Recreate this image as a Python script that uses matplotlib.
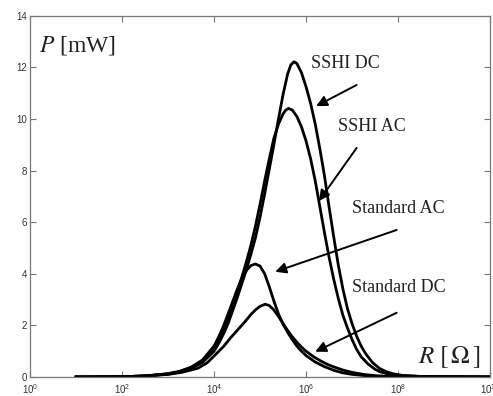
import matplotlib
matplotlib.use('Agg')
import matplotlib.pyplot as plt
import numpy as np

plt.rcParams['mathtext.fontset'] = 'stix'

sshi_dc_logr = [1, 2, 2.5, 3.0, 3.25, 3.5, 3.75, 4.0, 4.1, 4.2, 4.3, 4.4, 4.5, 4.6, 4.7, 4.8, 4.9,
                5.0, 5.1, 5.2, 5.3, 5.4, 5.5, 5.6, 5.67, 5.74, 5.8, 5.9, 6.0, 6.1, 6.2, 6.3,
                6.4, 6.5, 6.6, 6.7, 6.8, 6.9, 7.0, 7.1, 7.2, 7.3, 7.45, 7.6, 7.75, 7.9, 8.1,
                8.5, 9, 10]
sshi_dc_p = [0, 0.01, 0.04, 0.11, 0.19, 0.33, 0.57, 1.0, 1.3, 1.65, 2.05, 2.55, 3.05, 3.6, 4.15,
             4.75, 5.4, 6.2, 7.1, 8.05, 9.0, 10.0, 10.95, 11.75, 12.1, 12.22, 12.15, 11.8,
             11.25, 10.6, 9.8, 8.85, 7.8, 6.6, 5.45, 4.35, 3.42, 2.65, 2.07, 1.58, 1.19, 0.89,
             0.55, 0.33, 0.2, 0.12, 0.06, 0.02, 0.01, 0]

sshi_ac_logr = [1, 2, 2.5, 3.0, 3.25, 3.5, 3.75, 4.0, 4.1, 4.2, 4.3, 4.4, 4.5, 4.6, 4.7, 4.8, 4.9,
                5.0, 5.1, 5.2, 5.3, 5.4, 5.5, 5.56, 5.62, 5.7, 5.8, 5.9, 6.0, 6.1, 6.2, 6.3,
                6.4, 6.5, 6.6, 6.7, 6.8, 6.9, 7.0, 7.1, 7.2, 7.35, 7.5, 7.61, 7.8, 8.0, 8.5,
                9, 10]
sshi_ac_p = [0, 0.01, 0.04, 0.12, 0.21, 0.36, 0.62, 1.1, 1.42, 1.8, 2.25, 2.75, 3.3, 3.85, 4.45,
             5.1, 5.85, 6.7, 7.6, 8.45, 9.25, 9.8, 10.2, 10.35, 10.41, 10.35, 10.1, 9.7, 9.15,
             8.45, 7.6, 6.6, 5.6, 4.65, 3.8, 3.05, 2.4, 1.9, 1.45, 1.07, 0.78, 0.5, 0.3,
             0.2, 0.11, 0.06, 0.02, 0.01, 0]

std_ac_logr = [1, 2, 2.5, 3.0, 3.25, 3.5, 3.75, 4.0, 4.1, 4.2, 4.3, 4.4, 4.5, 4.6, 4.7, 4.8, 4.9,
               5.0, 5.1, 5.2, 5.3, 5.4, 5.5, 5.6, 5.7, 5.8, 5.9, 6.0, 6.2, 6.4, 6.6, 6.8,
               7.0, 7.3, 7.6, 8, 10]
std_ac_p = [0, 0.01, 0.04, 0.13, 0.22, 0.38, 0.66, 1.2, 1.55, 1.95, 2.42, 2.9, 3.38, 3.8, 4.12,
            4.32, 4.38, 4.3, 4.0, 3.5, 2.95, 2.45, 2.05, 1.73, 1.45, 1.2, 1.0, 0.83, 0.58,
            0.4, 0.26, 0.16, 0.1, 0.05, 0.02, 0.01, 0]

std_dc_logr = [1, 2, 2.5, 3.0, 3.3, 3.65, 3.85, 4.02, 4.2, 4.35, 4.5, 4.67, 4.8, 4.9, 5.0, 5.11,
               5.2, 5.3, 5.4, 5.5, 5.6, 5.7, 5.8, 5.9, 6.0, 6.16, 6.3, 6.45, 6.59, 6.8, 7.0,
               7.25, 7.5, 8, 10]
std_dc_p = [0, 0.01, 0.04, 0.1, 0.18, 0.34, 0.55, 0.85, 1.17, 1.5, 1.8, 2.14, 2.42, 2.6, 2.74,
            2.82, 2.77, 2.6, 2.35, 2.07, 1.8, 1.56, 1.35, 1.16, 1.0, 0.79, 0.64, 0.5, 0.4,
            0.27, 0.18, 0.1, 0.05, 0.01, 0]

fig = plt.figure(figsize=(4.93, 3.96), dpi=100)
ax = fig.add_axes([0.061, 0.048, 0.933, 0.912])

for lr, p in [(sshi_dc_logr, sshi_dc_p), (sshi_ac_logr, sshi_ac_p),
              (std_ac_logr, std_ac_p), (std_dc_logr, std_dc_p)]:
    ax.plot(10 ** np.array(lr), p, color='k', lw=2, solid_joinstyle='round')

ax.set_xscale('log')
ax.set_xlim(1, 1e10)
ax.set_ylim(0, 14)
ax.set_xticks([10 ** k for k in range(0, 11, 2)])
ax.minorticks_off()
ax.set_yticks(range(0, 15, 2))
ax.tick_params(direction='in', top=True, right=True, length=4, width=0.8,
               color='#777777', labelsize=7, labelcolor='#333333', pad=2)
ax.tick_params(axis='x', pad=4)
for lab in ax.get_xticklabels() + ax.get_yticklabels():
    lab.set_family('Liberation Sans')
for s in ax.spines.values():
    s.set_color('#777777')
    s.set_linewidth(0.9)

serif = 'Liberation Serif'
labels = [
    ('SSHI DC', 10 ** 6.10, 12.17, 10 ** 7.10, 11.32, 10 ** 6.22, 10.5),
    ('SSHI AC', 10 ** 6.70, 9.70, 10 ** 7.10, 8.88, 10 ** 6.28, 6.82),
    ('Standard AC', 10 ** 6.99, 6.55, 10 ** 7.97, 5.70, 10 ** 5.33, 4.08),
    ('Standard DC', 10 ** 6.99, 3.45, 10 ** 7.97, 2.49, 10 ** 6.20, 0.98),
]
for txt, tx, ty, ax0, ay0, hx, hy in labels:
    ax.text(tx, ty, txt, family=serif, fontsize=13, va='center', ha='left',
            color='#222222')
    ax.annotate('', xy=(hx, hy), xytext=(ax0, ay0),
                arrowprops=dict(arrowstyle='-|>', color='k', lw=1.4,
                                mutation_scale=16, shrinkA=0, shrinkB=0))

ax.text(0.02, 0.919, r'$P$ [mW]', transform=ax.transAxes, family=serif,
        fontsize=17, va='center', ha='left', color='#222222')
ax.text(0.843, 0.056, r'$R\ [\,\Omega\,]$', transform=ax.transAxes,
        fontsize=18, va='center', ha='left', color='#222222')

fig.savefig('out.png', dpi=100)
